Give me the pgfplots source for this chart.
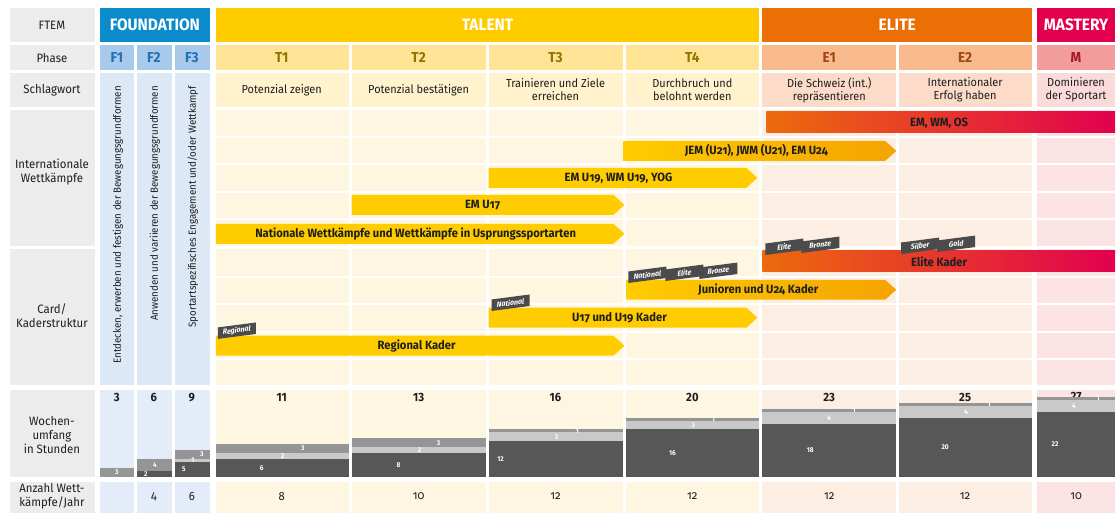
\documentclass[border=0pt]{standalone}
\usepackage{fontspec}
\setmainfont{Fira Sans}[FakeStretch=0.94]
\usepackage{pgfplots}
\pgfplotsset{compat=1.18}
\newcommand{\os}[1]{{\addfontfeatures{Numbers=OldStyle}#1}}
\newcommand{\fs}[2]{\fontsize{#1}{#2}\selectfont}
\definecolor{txt}{HTML}{1E1E1E}
\definecolor{lgrey}{HTML}{ECECEC}
\definecolor{cFo}{HTML}{0B8BCB}
\definecolor{cTa}{HTML}{FFCC00}
\definecolor{cEl}{HTML}{EC6F05}
\definecolor{cMa}{HTML}{E2004F}
\definecolor{pF}{HTML}{A8CAEA}
\definecolor{pT}{HTML}{FFE496}
\definecolor{pE}{HTML}{F8B98C}
\definecolor{pM}{HTML}{F29C9C}
\definecolor{tF}{HTML}{2070B5}
\definecolor{tT}{HTML}{8C7600}
\definecolor{tE}{HTML}{A0460F}
\definecolor{tM}{HTML}{A3162D}
\definecolor{sF}{HTML}{DDE8F6}
\definecolor{sT}{HTML}{FFF2CD}
\definecolor{sE}{HTML}{FCDCC8}
\definecolor{sM}{HTML}{FBDADA}
\definecolor{bT}{HTML}{FFF6E1}
\definecolor{bE}{HTML}{FDEEE3}
\definecolor{bM}{HTML}{FDE4E4}
\definecolor{wF}{HTML}{E3ECF8}
\definecolor{barY}{HTML}{FFCC00}
\definecolor{barYO}{HTML}{F5A300}
\definecolor{barO}{HTML}{EC6B0C}
\definecolor{barOR}{HTML}{EA5A17}
\definecolor{barR}{HTML}{E2004F}
\definecolor{tag}{HTML}{4B4B4B}
\definecolor{sDark}{HTML}{575757}
\definecolor{sLight}{HTML}{C9C9C9}
\definecolor{sMid}{HTML}{959595}
\tikzset{
  lab/.style={font=\fs{12.2}{14}, text=txt, align=center, inner sep=0pt},
  slw/.style={font=\fs{11.7}{13}, text=txt, align=center, inner sep=0pt},
  bl/.style={font=\fs{12}{14}\bfseries, text=txt, inner sep=0pt},
  hd/.style={font=\fs{16.5}{18}\bfseries, text=white, inner sep=0pt},
  ph/.style={font=\fs{14.5}{16}\bfseries, inner sep=0pt},
  tot/.style={font=\fs{12}{14}\bfseries, text=txt, inner sep=0pt},
  anz/.style={font=\fs{12}{14}, text=txt, inner sep=0pt},
  seg/.style={font=\fs{7}{8}\bfseries, text=white, inner sep=0pt},
  tagn/.style={fill=tag, text=white, font=\fs{7.5}{8}\bfseries\itshape, yslant=0.13, transform shape, inner xsep=1pt, inner ysep=0pt, minimum width=38bp, minimum height=11.5bp},
  vt/.style={font=\fs{10.4}{12}, text=txt, rotate=90, anchor=east, inner sep=0pt},
}
\begin{document}
\begin{tikzpicture}
\begin{axis}[at={(0,0)}, anchor=south west, scale only axis, width=1116bp, height=513bp,
  xmin=0, xmax=1116, ymin=0, ymax=513, y dir=reverse, axis lines=none, clip=false]
\fill[white] (axis cs:0,0) rectangle (axis cs:1116,513);
% label column
\fill[lgrey] (axis cs:10,8) rectangle (axis cs:95,42);
\fill[lgrey] (axis cs:10,45) rectangle (axis cs:95,70);
\fill[lgrey] (axis cs:10,73) rectangle (axis cs:95,107);
\fill[lgrey] (axis cs:10,110) rectangle (axis cs:95,246);
\fill[lgrey] (axis cs:10,249) rectangle (axis cs:95,385);
\fill[lgrey] (axis cs:10,390) rectangle (axis cs:95,477);
\fill[lgrey] (axis cs:10,482) rectangle (axis cs:95,513);
% header
\fill[cFo] (axis cs:100,8) rectangle (axis cs:210,42);
\fill[cTa] (axis cs:216,8) rectangle (axis cs:760,42);
\fill[cEl] (axis cs:763,8) rectangle (axis cs:1033,42);
\fill[cMa] (axis cs:1038,8) rectangle (axis cs:1116,42);
% phase row
\fill[pF] (axis cs:100,45) rectangle (axis cs:134,70);
\fill[pF] (axis cs:137,45) rectangle (axis cs:172,70);
\fill[pF] (axis cs:175,45) rectangle (axis cs:210,70);
\fill[pT] (axis cs:216,45) rectangle (axis cs:349,70);
\fill[pT] (axis cs:352,45) rectangle (axis cs:486,70);
\fill[pT] (axis cs:489,45) rectangle (axis cs:624,70);
\fill[pT] (axis cs:627,45) rectangle (axis cs:760,70);
\fill[pE] (axis cs:763,45) rectangle (axis cs:897,70);
\fill[pE] (axis cs:900,45) rectangle (axis cs:1033,70);
\fill[pM] (axis cs:1038,45) rectangle (axis cs:1116,70);
% schlagwort row
\fill[sF] (axis cs:100,73) rectangle (axis cs:134,385);
\fill[sF] (axis cs:137,73) rectangle (axis cs:172,385);
\fill[sF] (axis cs:175,73) rectangle (axis cs:210,385);
\fill[sT] (axis cs:216,73) rectangle (axis cs:349,107);
\fill[sT] (axis cs:352,73) rectangle (axis cs:486,107);
\fill[sT] (axis cs:489,73) rectangle (axis cs:624,107);
\fill[sT] (axis cs:627,73) rectangle (axis cs:760,107);
\fill[sE] (axis cs:763,73) rectangle (axis cs:897,107);
\fill[sE] (axis cs:900,73) rectangle (axis cs:1033,107);
\fill[sM] (axis cs:1038,73) rectangle (axis cs:1116,107);
% body rows
\fill[bT] (axis cs:216,110) rectangle (axis cs:349,246);
\fill[bT] (axis cs:352,110) rectangle (axis cs:486,246);
\fill[bT] (axis cs:489,110) rectangle (axis cs:624,246);
\fill[bT] (axis cs:627,110) rectangle (axis cs:760,246);
\fill[bE] (axis cs:763,110) rectangle (axis cs:897,246);
\fill[bE] (axis cs:900,110) rectangle (axis cs:1033,246);
\fill[bM] (axis cs:1038,110) rectangle (axis cs:1116,246);
\fill[bT] (axis cs:216,249) rectangle (axis cs:349,385);
\fill[bT] (axis cs:352,249) rectangle (axis cs:486,385);
\fill[bT] (axis cs:489,249) rectangle (axis cs:624,385);
\fill[bT] (axis cs:627,249) rectangle (axis cs:760,385);
\fill[bE] (axis cs:763,249) rectangle (axis cs:897,385);
\fill[bE] (axis cs:900,249) rectangle (axis cs:1033,385);
\fill[bM] (axis cs:1038,249) rectangle (axis cs:1116,385);
\draw[white, line width=2bp] (axis cs:216,137) -- (axis cs:1116,137);
\draw[white, line width=2bp] (axis cs:216,164) -- (axis cs:1116,164);
\draw[white, line width=2bp] (axis cs:216,192) -- (axis cs:1116,192);
\draw[white, line width=2bp] (axis cs:216,219) -- (axis cs:1116,219);
\draw[white, line width=2bp] (axis cs:216,277) -- (axis cs:1116,277);
\draw[white, line width=2bp] (axis cs:216,304) -- (axis cs:1116,304);
\draw[white, line width=2bp] (axis cs:216,332) -- (axis cs:1116,332);
\draw[white, line width=2bp] (axis cs:216,359) -- (axis cs:1116,359);
% wochen row backgrounds
\fill[wF] (axis cs:100,390) rectangle (axis cs:134,477);
\fill[wF] (axis cs:137,390) rectangle (axis cs:172,477);
\fill[wF] (axis cs:175,390) rectangle (axis cs:210,477);
\fill[bT] (axis cs:216,390) rectangle (axis cs:349,477);
\fill[bT] (axis cs:352,390) rectangle (axis cs:486,477);
\fill[bT] (axis cs:489,390) rectangle (axis cs:624,477);
\fill[bT] (axis cs:627,390) rectangle (axis cs:760,477);
\fill[bE] (axis cs:763,390) rectangle (axis cs:897,477);
\fill[bE] (axis cs:900,390) rectangle (axis cs:1033,477);
\fill[bM] (axis cs:1038,390) rectangle (axis cs:1116,477);
% anzahl row backgrounds
\fill[wF] (axis cs:100,482) rectangle (axis cs:134,513);
\fill[wF] (axis cs:137,482) rectangle (axis cs:172,513);
\fill[wF] (axis cs:175,482) rectangle (axis cs:210,513);
\fill[bT] (axis cs:216,482) rectangle (axis cs:349,513);
\fill[bT] (axis cs:352,482) rectangle (axis cs:486,513);
\fill[bT] (axis cs:489,482) rectangle (axis cs:624,513);
\fill[bT] (axis cs:627,482) rectangle (axis cs:760,513);
\fill[bE] (axis cs:763,482) rectangle (axis cs:897,513);
\fill[bE] (axis cs:900,482) rectangle (axis cs:1033,513);
\fill[bM] (axis cs:1038,482) rectangle (axis cs:1116,513);
% bars: international competitions
\addplot[draw=none, left color=barO, middle color=barOR, right color=barR] coordinates {(767,112) (1116,112) (1116,133) (767,133)} --cycle;
\addplot[draw=none, left color=barY, middle color=barY, right color=barYO] coordinates {(624,141) (886,141) (897,151) (886,161) (624,161)} --cycle;
\addplot[draw=none, fill=barY] coordinates {(489,168) (747,168) (758,178) (747,188) (489,188)} --cycle;
\addplot[draw=none, fill=barY] coordinates {(352,195) (614,195) (625,205) (614,215) (352,215)} --cycle;
\addplot[draw=none, fill=barY] coordinates {(216,224) (614,224) (625,234) (614,244) (216,244)} --cycle;
% bars: card / kader
\addplot[draw=none, left color=barO, middle color=barOR, right color=barR] coordinates {(763,251) (1116,251) (1116,272) (763,272)} --cycle;
\addplot[draw=none, left color=barY, middle color=barY, right color=barYO] coordinates {(627,280) (886,280) (897,290) (886,300) (627,300)} --cycle;
\addplot[draw=none, fill=barY] coordinates {(489,308) (747,308) (758,318) (747,328) (489,328)} --cycle;
\addplot[draw=none, fill=barY] coordinates {(216,336) (614,336) (625,346) (614,356) (216,356)} --cycle;
% bar labels
\node[bl] at (axis cs:940,123) {EM, WM, OS};
\node[bl] at (axis cs:757,151) {JEM (U\os{21}), JWM (U\os{21}), EM U\os{24}};
\node[bl] at (axis cs:619,178) {EM U\os{19}, WM U\os{19}, YOG};
\node[bl] at (axis cs:483,205) {EM U\os{17}};
\node[bl] at (axis cs:416,234) {Nationale Wettkämpfe und Wettkämpfe in Usprungssportarten};
\node[bl] at (axis cs:940,262) {Elite Kader};
\node[bl] at (axis cs:759,290) {Junioren und U\os{24} Kader};
\node[bl] at (axis cs:620,318) {U\os{17} und U\os{19} Kader};
\node[bl] at (axis cs:417,346) {Regional Kader};
% tags
\node[tagn] at (axis cs:237,331) {Regional};
\node[tagn] at (axis cs:511,303) {National};
\node[tagn] at (axis cs:648,275) {National};
\node[tagn] at (axis cs:685,273) {Elite};
\node[tagn] at (axis cs:719,271) {Bronze};
\node[tagn] at (axis cs:785,247) {Elite};
\node[tagn] at (axis cs:821,245) {Bronze};
\node[tagn] at (axis cs:921,246) {Silber};
\node[tagn] at (axis cs:957,244) {Gold};
% label column texts
\node[lab] at (axis cs:52,25) {FTEM};
\node[lab] at (axis cs:52,58) {Phase};
\node[lab] at (axis cs:52,90) {Schlagwort};
\node[lab] at (axis cs:52,172) {Internationale\\Wettkämpfe};
\node[lab] at (axis cs:52,316) {Card/\\Kaderstruktur};
\node[lab] at (axis cs:52,435) {Wochen-\\umfang\\in Stunden};
\node[lab] at (axis cs:52,497) {Anzahl Wett-\\kämpfe/Jahr};
% header texts
\node[hd] at (axis cs:155,25) {FOUNDATION};
\node[hd] at (axis cs:488,25) {TALENT};
\node[hd] at (axis cs:898,25) {ELITE};
\node[hd] at (axis cs:1077,25) {MASTERY};
% phase texts
\node[ph, text=tF] at (axis cs:117,58) {F1};
\node[ph, text=tF] at (axis cs:154,58) {F2};
\node[ph, text=tF] at (axis cs:192,58) {F3};
\node[ph, text=tT] at (axis cs:282,58) {T1};
\node[ph, text=tT] at (axis cs:419,58) {T2};
\node[ph, text=tT] at (axis cs:556,58) {T3};
\node[ph, text=tT] at (axis cs:693,58) {T4};
\node[ph, text=tE] at (axis cs:830,58) {E1};
\node[ph, text=tE] at (axis cs:966,58) {E2};
\node[ph, text=tM] at (axis cs:1077,58) {M};
% schlagwort texts
\node[slw] at (axis cs:282,90) {Potenzial zeigen};
\node[slw] at (axis cs:419,90) {Potenzial bestätigen};
\node[slw] at (axis cs:556,90) {Trainieren und Ziele\\erreichen};
\node[slw] at (axis cs:693,90) {Durchbruch und\\belohnt werden};
\node[slw] at (axis cs:830,90) {Die Schweiz (int.)\\repräsentieren};
\node[slw] at (axis cs:966,90) {Internationaler\\Erfolg haben};
\node[slw] at (axis cs:1077,90) {Dominieren\\der Sportart};
% vertical texts
\node[vt] at (axis cs:118,86) {Entdecken, erwerben und festigen der Bewegungsgrundformen};
\node[vt] at (axis cs:155,86) {Anwenden und variieren der Bewegungsgrundformen};
\node[vt] at (axis cs:193,86) {Sportartspezifisches Engagement und/oder Wettkampf};
% totals
\node[tot] at (axis cs:117,398) {3};
\node[tot] at (axis cs:154,398) {6};
\node[tot] at (axis cs:192,398) {9};
\node[tot] at (axis cs:282,398) {11};
\node[tot] at (axis cs:419,398) {13};
\node[tot] at (axis cs:556,398) {16};
\node[tot] at (axis cs:693,398) {20};
\node[tot] at (axis cs:830,398) {23};
\node[tot] at (axis cs:966,398) {25};
\node[tot] at (axis cs:1077,397) {27};
% anzahl
\node[anz] at (axis cs:154,497) {\os{4}};
\node[anz] at (axis cs:192,497) {\os{6}};
\node[anz] at (axis cs:282,497) {\os{8}};
\node[anz] at (axis cs:419,497) {\os{10}};
\node[anz] at (axis cs:556,497) {\os{12}};
\node[anz] at (axis cs:693,497) {\os{12}};
\node[anz] at (axis cs:830,497) {\os{12}};
\node[anz] at (axis cs:966,497) {\os{12}};
\node[anz] at (axis cs:1077,497) {\os{10}};
\end{axis}
% weekly hours stacked bars (hours scale)
\begin{axis}[at={(0bp,36bp)}, anchor=south west, scale only axis, width=1116bp, height=87bp,
  xmin=0, xmax=1116, ymin=0, ymax=29.49, axis lines=none, clip=false]
% F1
\addplot[draw=none, fill=sMid] coordinates {(100,0) (134,0) (134,3) (100,3)} --cycle;
% F2
\addplot[draw=none, fill=sDark] coordinates {(137,0) (172,0) (172,2) (137,2)} --cycle;
\addplot[draw=none, fill=sMid] coordinates {(137,2) (172,2) (172,6) (137,6)} --cycle;
% F3
\addplot[draw=none, fill=sDark] coordinates {(175,0) (210,0) (210,5) (175,5)} --cycle;
\addplot[draw=none, fill=sLight] coordinates {(175,5) (210,5) (210,6) (175,6)} --cycle;
\addplot[draw=none, fill=sMid] coordinates {(175,6) (210,6) (210,9) (175,9)} --cycle;
% T1
\addplot[draw=none, fill=sDark] coordinates {(216,0) (349,0) (349,6) (216,6)} --cycle;
\addplot[draw=none, fill=sLight] coordinates {(216,6) (349,6) (349,8) (216,8)} --cycle;
\addplot[draw=none, fill=sMid] coordinates {(216,8) (349,8) (349,11) (216,11)} --cycle;
% T2
\addplot[draw=none, fill=sDark] coordinates {(352,0) (486,0) (486,8) (352,8)} --cycle;
\addplot[draw=none, fill=sLight] coordinates {(352,8) (486,8) (486,10) (352,10)} --cycle;
\addplot[draw=none, fill=sMid] coordinates {(352,10) (486,10) (486,13) (352,13)} --cycle;
% T3
\addplot[draw=none, fill=sDark] coordinates {(489,0) (624,0) (624,12) (489,12)} --cycle;
\addplot[draw=none, fill=sLight] coordinates {(489,12) (624,12) (624,15) (489,15)} --cycle;
\addplot[draw=none, fill=sMid] coordinates {(489,15) (624,15) (624,16) (489,16)} --cycle;
% T4
\addplot[draw=none, fill=sDark] coordinates {(627,0) (760,0) (760,16) (627,16)} --cycle;
\addplot[draw=none, fill=sLight] coordinates {(627,16) (760,16) (760,19) (627,19)} --cycle;
\addplot[draw=none, fill=sMid] coordinates {(627,19) (760,19) (760,20) (627,20)} --cycle;
% E1
\addplot[draw=none, fill=sDark] coordinates {(763,0) (897,0) (897,18) (763,18)} --cycle;
\addplot[draw=none, fill=sLight] coordinates {(763,18) (897,18) (897,22) (763,22)} --cycle;
\addplot[draw=none, fill=sMid] coordinates {(763,22) (897,22) (897,23) (763,23)} --cycle;
% E2
\addplot[draw=none, fill=sDark] coordinates {(900,0) (1033,0) (1033,20) (900,20)} --cycle;
\addplot[draw=none, fill=sLight] coordinates {(900,20) (1033,20) (1033,24) (900,24)} --cycle;
\addplot[draw=none, fill=sMid] coordinates {(900,24) (1033,24) (1033,25) (900,25)} --cycle;
% M
\addplot[draw=none, fill=sDark] coordinates {(1038,0) (1116,0) (1116,22) (1038,22)} --cycle;
\addplot[draw=none, fill=sLight] coordinates {(1038,22) (1116,22) (1116,26) (1038,26)} --cycle;
\addplot[draw=none, fill=sMid] coordinates {(1038,26) (1116,26) (1116,27) (1038,27)} --cycle;
% segment labels
\node[seg] at (axis cs:117,1.5) {3};
\node[seg] at (axis cs:146,1) {2};
\node[seg] at (axis cs:155,4) {4};
\node[seg] at (axis cs:184,2.5) {5};
\node[seg] at (axis cs:193,5.5) {1};
\node[seg] at (axis cs:202,7.5) {3};
\node[seg] at (axis cs:262,3) {6};
\node[seg] at (axis cs:283,7) {2};
\node[seg] at (axis cs:303,9.5) {3};
\node[seg] at (axis cs:399,4) {8};
\node[seg] at (axis cs:420,9) {2};
\node[seg] at (axis cs:439,11.5) {3};
\node[seg] at (axis cs:501,6) {12};
\node[seg] at (axis cs:557,13.5) {3};
\node[seg] at (axis cs:578,15.5) {1};
\node[seg] at (axis cs:673,8) {16};
\node[seg] at (axis cs:694,17.5) {3};
\node[seg] at (axis cs:714,19.5) {1};
\node[seg] at (axis cs:811,9) {18};
\node[seg] at (axis cs:830,20) {4};
\node[seg] at (axis cs:855,22.5) {1};
\node[seg] at (axis cs:946,10) {20};
\node[seg] at (axis cs:967,22) {4};
\node[seg] at (axis cs:990,24.5) {1};
\node[seg] at (axis cs:1056,11) {22};
\node[seg] at (axis cs:1075,24) {4};
\node[seg] at (axis cs:1099,26.5) {1};
\end{axis}
\end{tikzpicture}
\end{document}
